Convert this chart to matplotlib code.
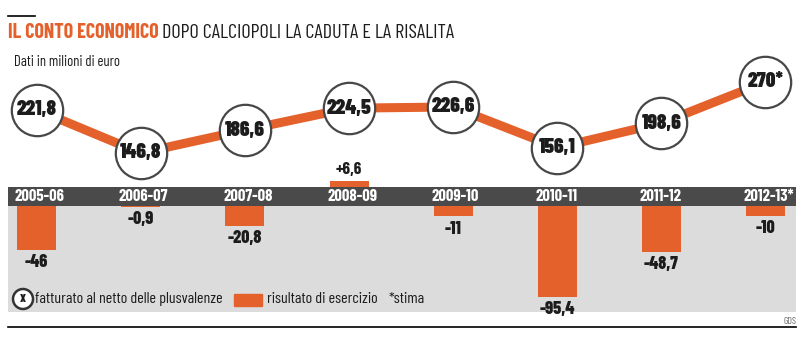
import matplotlib
matplotlib.use("Agg")
import matplotlib.pyplot as plt
from matplotlib.patches import Ellipse, Rectangle
import numpy as np

# Data (milioni di euro)
seasons = ["2005-06", "2006-07", "2007-08", "2008-09",
           "2009-10", "2010-11", "2011-12", "2012-13*"]
fatturato = [221.8, 146.8, 186.6, 224.5, 226.6, 156.1, 198.6, 270]
fatturato_labels = ["221,8", "146,8", "186,6", "224,5",
                    "226,6", "156,1", "198,6", "270*"]
risultato = [-46, -0.9, -20.8, 6.6, -11, -95.4, -48.7, -10]
risultato_labels = ["-46", "-0,9", "-20,8", "+6,6",
                    "-11", "-95,4", "-48,7", "-10"]

ORANGE = "#e5612b"
DARK = "#4a4a4a"
LIGHT = "#dcdcdc"
INK = "#1c1c1c"
plt.rcParams["font.family"] = ["Barlow Condensed", "DejaVu Sans"]

W, H = 806, 337
fig = plt.figure(figsize=(W / 100, H / 100), dpi=100)


def fx(x):
    return x / W


def fy(y):
    return 1 - y / H


x = np.arange(len(seasons))
xlim = ((8 - 36.75) / 104.1, (796 - 36.75) / 104.1)

# --- lower panel: risultato di esercizio ---
px_per_unit = 0.95
band_h = 19 / px_per_unit
axb = fig.add_axes([fx(8), fy(312), fx(796) - fx(8), (312 - 150) / H])
axb.set_xlim(*xlim)
axb.set_ylim((206 - 312) / px_per_unit, (206 - 150) / px_per_unit)
axb.axhspan((206 - 312) / px_per_unit, 0, color=LIGHT, lw=0, zorder=0)
axb.axhspan(0, band_h, color=DARK, lw=0, zorder=1)
axb.axis("off")

bottoms = [band_h if v > 0 else 0 for v in risultato]
axb.bar(x, risultato, bottom=bottoms, width=0.375, color=ORANGE, zorder=2)

for i, (v, b, lab) in enumerate(zip(risultato, bottoms, risultato_labels)):
    if v > 0:
        axb.annotate(lab, (i, b + v), xytext=(0, 3), textcoords="offset points",
                     ha="center", va="bottom", fontsize=12.5, fontweight="bold",
                     color=INK)
    else:
        axb.annotate(lab, (i, v), xytext=(0, -3), textcoords="offset points",
                     ha="center", va="top", fontsize=13, fontweight=800,
                     color=INK)
    axb.text(i - 0.21, band_h / 2, seasons[i], ha="left", va="center",
             fontsize=12, fontweight="bold", color="white", zorder=3)

# --- upper panel: fatturato ---
axt = fig.add_axes([fx(8), fy(180), fx(796) - fx(8), 120 / H])
axt.set_xlim(*xlim)
axt.set_ylim(100, 308)
axt.axis("off")
axt.plot(x, fatturato, color=ORANGE, lw=6.5, solid_capstyle="butt", zorder=1)
axt.plot(x, fatturato, "o", ms=37, mfc="white", mec="#474747", mew=1.6,
         zorder=2, clip_on=False)
for i, (v, lab) in enumerate(zip(fatturato, fatturato_labels)):
    axt.text(i, v, lab, ha="center", va="center", fontsize=15,
             fontweight=900, color=INK, zorder=3)

# --- title ---
fig.add_artist(plt.Line2D([fx(8), fx(35)], [fy(16), fy(16)], color="black", lw=1.2))
t1 = fig.text(fx(8), fy(33), "IL CONTO ECONOMICO", color=ORANGE, fontsize=14.5,
              fontweight="bold", va="center", ha="left")
axt.annotate("DOPO CALCIOPOLI LA CADUTA E LA RISALITA", xy=(1, 0.5),
             xycoords=t1, xytext=(2.5, 0), textcoords="offset points",
             color=INK, fontsize=14.5, va="center", ha="left",
             annotation_clip=False)
fig.text(fx(14), fy(62), "Dati in milioni di euro", color=INK, fontsize=10.5,
         va="center", ha="left")

# --- legend ---
fig.add_artist(Ellipse((fx(23), fy(299)), 20 / W, 20 / H, facecolor="white",
                       edgecolor="#333333", lw=1.8, transform=fig.transFigure))
fig.text(fx(23), fy(299), "X", ha="center", va="center", fontsize=8.5,
         fontweight=900, color=INK)
fig.text(fx(35), fy(299), "fatturato al netto delle plusvalenze", fontsize=11.5,
         color=INK, va="center", ha="left")
fig.add_artist(Rectangle((fx(234), fy(306)), 28 / W, 12 / H, color=ORANGE,
                         transform=fig.transFigure))
fig.text(fx(267), fy(299), "risultato di esercizio", fontsize=11.5,
         color=INK, va="center", ha="left")
fig.text(fx(389), fy(299), "*stima", fontsize=11.5, color=INK,
         va="center", ha="left")

# --- footer ---
fig.add_artist(plt.Line2D([fx(8), fx(796)], [fy(327), fy(327)], color="black", lw=1.2))
fig.text(fx(796), fy(322), "GDS", fontsize=7, color="#666666",
         ha="right", va="center")

fig.savefig("out.png", dpi=100, facecolor="white")
